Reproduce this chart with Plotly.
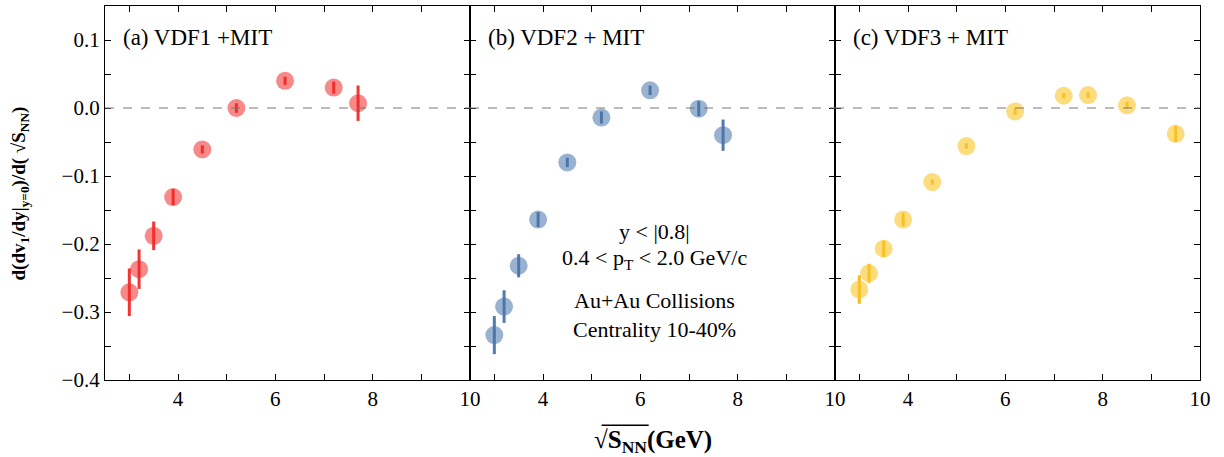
import plotly.graph_objects as go
from plotly.subplots import make_subplots

# Collision energies (GeV) and slope values for each model
x_vdf1 = [3.0, 3.2, 3.5, 3.9, 4.5, 5.2, 6.2, 7.2, 7.7]
y_vdf1 = [-0.271, -0.237, -0.188, -0.131, -0.061, 0.000, 0.040, 0.030, 0.007]
e_vdf1 = [0.035, 0.029, 0.021, 0.012, 0.006, 0.007, 0.006, 0.009, 0.026]

x_vdf2 = [3.0, 3.2, 3.5, 3.9, 4.5, 5.2, 6.2, 7.2, 7.7]
y_vdf2 = [-0.334, -0.292, -0.232, -0.164, -0.080, -0.014, 0.026, -0.001, -0.040]
e_vdf2 = [0.028, 0.024, 0.017, 0.011, 0.007, 0.009, 0.007, 0.011, 0.023]

x_vdf3 = [3.0, 3.2, 3.5, 3.9, 4.5, 5.2, 6.2, 7.2, 7.7, 8.5, 9.5]
y_vdf3 = [-0.267, -0.243, -0.207, -0.164, -0.109, -0.056, -0.005, 0.018, 0.019, 0.004, -0.038]
e_vdf3 = [0.021, 0.014, 0.012, 0.010, 0.004, 0.004, 0.005, 0.004, 0.004, 0.005, 0.012]

panel_titles = ["(a) VDF1 +MIT", "(b) VDF2 + MIT", "(c) VDF3 + MIT"]
x_tickvals = [3, 4, 5, 6, 7, 8, 9, 10]
x_ticktext = ["", "4", "", "6", "", "8", "", "10"]
y_tickvals = [-0.4, -0.35, -0.3, -0.25, -0.2, -0.15, -0.1, -0.05, 0.0, 0.05, 0.1]
y_ticktext = ["\u22120.4", "", "\u22120.3", "", "\u22120.2", "", "\u22120.1", "", "0.0", "", "0.1"]

notes = ["y < |0.8|", "0.4 < p<sub>T</sub> < 2.0 GeV/c", "Au+Au Collisions", "Centrality 10-40%"]
note_y = [-0.181, -0.222, -0.283, -0.325]

series = [
    (x_vdf1, y_vdf1, e_vdf1, "rgba(240,40,40,0.55)", "rgba(240,30,30,0.9)"),
    (x_vdf2, y_vdf2, e_vdf2, "rgba(70,115,170,0.55)", "rgba(50,100,160,0.85)"),
    (x_vdf3, y_vdf3, e_vdf3, "rgba(252,196,40,0.6)", "rgba(245,180,0,0.9)"),
]

FONT = "Liberation Serif"

fig = make_subplots(rows=1, cols=3, shared_yaxes=True, horizontal_spacing=0)

for i, (xs, ys, es, fill, bar) in enumerate(series, start=1):
    fig.add_trace(
        go.Scatter(
            x=xs, y=ys, mode="markers",
            marker=dict(size=18, color=fill, line=dict(width=0)),
            error_y=dict(type="data", array=es, visible=True, thickness=3, width=0, color=bar),
            showlegend=False,
        ),
        row=1, col=i,
    )
    fig.add_shape(
        type="line", x0=2.5, x1=10, y0=0, y1=0,
        line=dict(color="rgba(120,120,120,1)", width=1.2, dash="dash"),
        row=1, col=i,
    )
    fig.update_xaxes(
        range=[2.5, 10], tickvals=x_tickvals, ticktext=x_ticktext,
        ticks="inside", ticklen=6, tickwidth=1.2, tickcolor="black",
        showline=True, linecolor="black", linewidth=1.3, mirror="ticks",
        showgrid=False, zeroline=False,
        tickfont=dict(family=FONT, size=21, color="black"),
        row=1, col=i,
    )
    fig.update_yaxes(
        range=[-0.4, 0.15], tickvals=y_tickvals, ticktext=y_ticktext,
        ticks="inside", ticklen=6, tickwidth=1.2, tickcolor="black",
        showline=True, linecolor="black", linewidth=1.3, mirror="ticks",
        showgrid=False, zeroline=False,
        tickfont=dict(family=FONT, size=21, color="black"),
        row=1, col=i,
    )
    fig.add_annotation(
        text=panel_titles[i - 1], xref=f"x{'' if i == 1 else i} domain",
        yref=f"y{'' if i == 1 else i} domain", x=0.045, y=0.917,
        xanchor="left", yanchor="middle", showarrow=False,
        font=dict(family=FONT, size=23, color="black"),
    )

# Kinematic cuts and system description in the middle panel
for txt, yy in zip(notes, note_y):
    fig.add_annotation(
        text=txt, xref="x2", yref="y2", x=6.3, y=yy,
        showarrow=False, font=dict(family=FONT, size=22, color="black"),
    )

fig.add_annotation(
    text="<b>d(dv<sub>1</sub>/dy|<sub>y=0</sub>)/d( \u221aS<sub>NN</sub>)</b>",
    xref="paper", yref="paper", x=-0.09, y=0.5, textangle=-90,
    showarrow=False, font=dict(family=FONT, size=19, color="black"),
)

fig.add_annotation(
    text="\u221a<b>S<sub>NN</sub>(GeV)</b>",
    xref="paper", yref="paper", x=0.5, y=-0.165, yanchor="middle",
    showarrow=False, font=dict(family=FONT, size=25, color="black"),
)
# vinculum of the square root over S_NN
fig.add_shape(
    type="line", xref="paper", yref="paper",
    x0=0.4535, x1=0.4965, y0=-0.121, y1=-0.121,
    line=dict(color="black", width=1.6),
)

fig.update_layout(
    width=1224, height=457,
    margin=dict(l=105, r=24, t=6, b=77),
    plot_bgcolor="white", paper_bgcolor="white",
    font=dict(family=FONT, color="black"),
)

fig.write_html("out.html")
